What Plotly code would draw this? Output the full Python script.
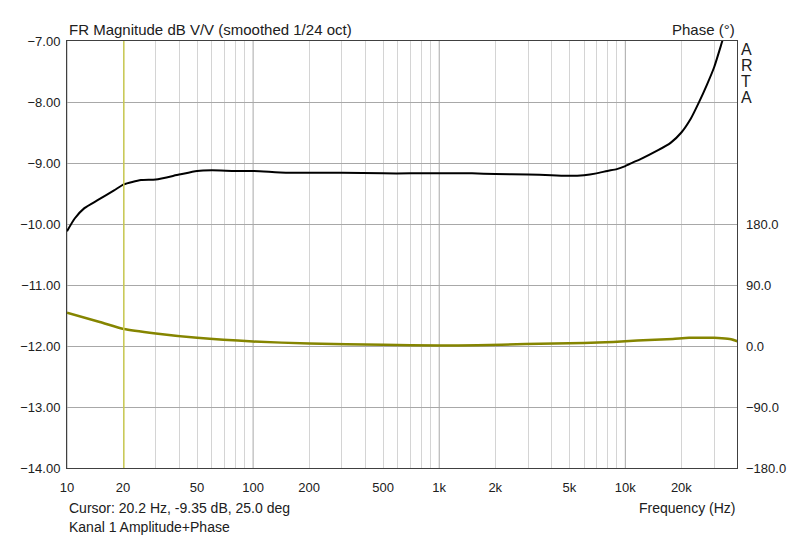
import plotly.graph_objects as go

# magnitude response (dB V/V)
freq_mag = [10, 11, 12.4, 14.6, 17.9, 20.2, 25, 30, 40, 50, 60, 80, 100, 150, 200,
            300, 500, 700, 1000, 1500, 2000, 3000, 4000, 5000, 6000, 7000, 8000,
            9000, 10000, 11000, 12000, 15000, 17500, 20000, 22500, 25000, 27500, 30000,
            33200, 36000, 40000]
mag_db = [-10.12, -9.91, -9.74, -9.61, -9.45, -9.35, -9.28, -9.27, -9.19, -9.13, -9.12,
          -9.13, -9.13, -9.16, -9.16, -9.16, -9.17, -9.17, -9.17, -9.17, -9.18, -9.19,
          -9.20, -9.21, -9.20, -9.17, -9.13, -9.10, -9.05, -8.99, -8.94, -8.79, -8.67,
          -8.50, -8.27, -7.99, -7.71, -7.43, -7.00, -6.65, -6.15]

# phase (deg)
freq_ph = [10, 15, 20.2, 30, 50, 100, 200, 500, 1000, 1600, 2900, 6000, 8600, 11600,
           18000, 22000, 30000, 33000, 37000, 40000]
phase_deg = [49, 35.5, 25, 18.4, 12, 6.6, 3.7, 1.8, 0.8, 1.0, 3.0, 4.5, 6.0, 8.0,
             10.5, 12.0, 12.0, 11.5, 10.0, 7.0]

x_tickvals = [10, 20, 50, 100, 200, 500, 1000, 2000, 5000, 10000, 20000]
x_ticktext = ["10", "20", "50", "100", "200", "500", "1k", "2k", "5k", "10k", "20k"]
decades = [10, 100, 1000, 10000]
minor_grid = [m * d for d in decades for m in range(2, 10) if m * d < 40000]

cursor_freq = 20.2
cursor_text = "Cursor: 20.2 Hz, -9.35 dB, 25.0 deg"

FONT = "Liberation Sans, Arial, sans-serif"
TXT = "#202020"

fig = go.Figure()
fig.add_trace(go.Scatter(x=freq_ph, y=phase_deg, yaxis="y2", mode="lines",
                         line=dict(color="#858500", width=2.5, shape="spline", smoothing=0.6),
                         showlegend=False))
fig.add_trace(go.Scatter(x=freq_mag, y=mag_db, mode="lines",
                         line=dict(color="black", width=2, shape="spline", smoothing=0.6),
                         showlegend=False))

shapes = []
for d in decades:
    shapes.append(dict(type="line", xref="x", yref="paper", x0=d, x1=d, y0=0, y1=1,
                       line=dict(color="#a8a8a8", width=1), layer="below"))
shapes.append(dict(type="line", xref="x", yref="paper", x0=cursor_freq, x1=cursor_freq,
                   y0=0, y1=1, line=dict(color="#c8c850", width=1.5), layer="above"))

annotations = [
    dict(text="FR Magnitude dB V/V (smoothed 1/24 oct)", xref="paper", yref="paper",
         x=0, y=1, xanchor="left", yanchor="bottom", yshift=1, showarrow=False,
         font=dict(size=15, color=TXT, family=FONT)),
    dict(text="Phase (°)", xref="paper", yref="paper", x=1, y=1, xanchor="right",
         yanchor="bottom", yshift=1, showarrow=False, font=dict(size=15, color=TXT, family=FONT)),
    dict(text=cursor_text, xref="paper", yref="paper", x=0, y=0, xanchor="left",
         yanchor="middle", yshift=-40, showarrow=False, font=dict(size=14, color=TXT, family=FONT)),
    dict(text="Kanal 1 Amplitude+Phase", xref="paper", yref="paper", x=0, y=0,
         xanchor="left", yanchor="middle", yshift=-59, showarrow=False,
         font=dict(size=14, color=TXT, family=FONT)),
    dict(text="Frequency (Hz)", xref="paper", yref="paper", x=1, y=0, xanchor="right",
         yanchor="middle", yshift=-40, showarrow=False, font=dict(size=14, color=TXT, family=FONT)),
]
for i, ch in enumerate("ARTA"):
    annotations.append(dict(text=ch, xref="paper", yref="paper", x=1, y=1, xanchor="left",
                            yanchor="middle", xshift=2, yshift=-8 - 16.3 * i, showarrow=False,
                            font=dict(size=16, color=TXT, family=FONT)))

# the page puts the figure 8px in from the top-left corner
fig.update_layout(
    width=792, height=531,
    margin=dict(l=54.5, r=62.5, t=32.5, b=70.5),
    paper_bgcolor="white", plot_bgcolor="white",
    font=dict(family=FONT, size=13, color=TXT),
    shapes=shapes, annotations=annotations,
    xaxis=dict(type="log", range=[1, 4.6], tickvals=x_tickvals, ticktext=x_ticktext,
               showgrid=False, ticks="", zeroline=False, ticklabelstandoff=7,
               showline=True, mirror=True, linecolor="#404040", linewidth=1,
               minor=dict(tickvals=minor_grid, showgrid=True, gridcolor="#d4d4d4",
                          gridwidth=1, ticks="")),
    yaxis=dict(range=[-14, -7], dtick=1, tickformat=".2f", showgrid=True,
               gridcolor="#a8a8a8", gridwidth=1, ticks="", zeroline=False,
               ticklabelstandoff=3,
               showline=True, mirror=True, linecolor="#404040", linewidth=1),
    yaxis2=dict(range=[-180, 450], overlaying="y", side="right",
                tickvals=[-180, -90, 0, 90, 180], tickformat=".1f", showgrid=False,
                ticks="", zeroline=False, showline=False, ticklabelstandoff=8),
)

fig.write_html("out.html")
